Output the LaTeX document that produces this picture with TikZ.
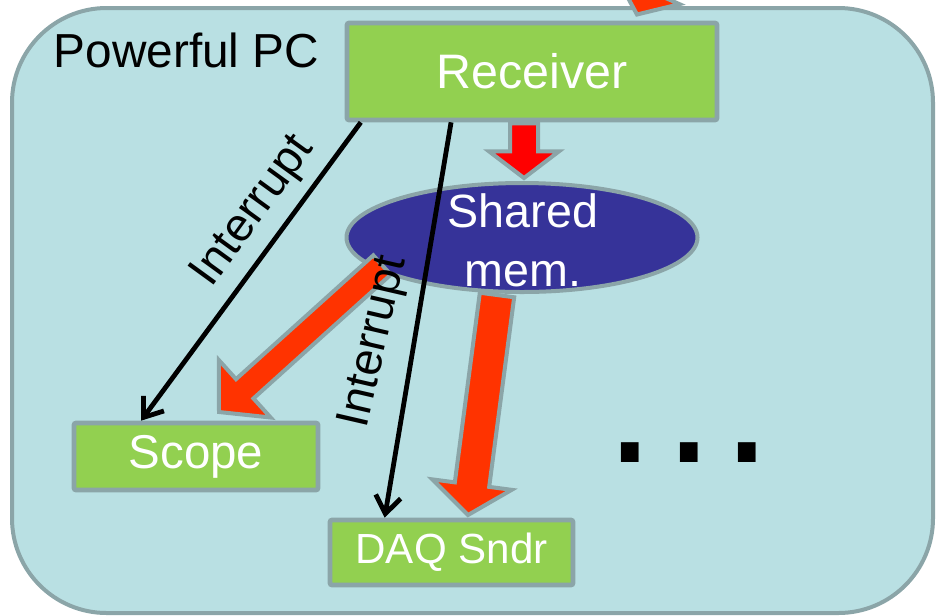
\documentclass[tikz,border=0pt]{standalone}
\usepackage{fontspec}
\setmainfont{Liberation Sans}
\usetikzlibrary{calc,arrows.meta,shapes.geometric}
\definecolor{bgfill}{HTML}{B9E0E3}
\definecolor{bord}{HTML}{8BA5A8}
\definecolor{boxgreen}{HTML}{92D050}
\definecolor{memblue}{HTML}{363399}
\definecolor{arrred}{HTML}{FF0000}
\definecolor{arrorange}{HTML}{FF3300}
% fat arrow: from, to, shaft half width, head half width, head length, colour
\newcommand{\fatarrow}[6]{%
  \coordinate (fa-h) at ($(#2)!#5!(#1)$);
  \filldraw[fill=#6, draw=bord, line width=3pt, line join=miter, miter limit=10]
    ($(#1)!#3!90:(#2)$) -- ($(fa-h)!#3!90:(#2)$) -- ($(fa-h)!#4!90:(#2)$) -- (#2)
    -- ($(fa-h)!#4!-90:(#2)$) -- ($(fa-h)!#3!-90:(#2)$) -- ($(#1)!#3!-90:(#2)$) -- cycle;
}
\tikzset{
  greenbox/.style={draw=bord, fill=boxgreen, line width=3.5pt, rounded corners=1.5pt,
    text=white, font=\fontsize{36}{43}\selectfont, inner sep=0pt},
  thinarr/.style={line width=3.6pt, -{Straight Barb[length=13pt,width=19pt]}},
  lbl/.style={font=\fontsize{35}{42}\selectfont, inner sep=0pt},
}
\begin{document}
\begin{tikzpicture}[x=0.75pt, y=-0.75pt]
\useasboundingbox (0,0) rectangle (937,615);
% container
\node[draw=bord, fill=bgfill, line width=3pt, rounded corners=71pt,
      minimum width=690.75pt, minimum height=453.75pt, inner sep=0pt] (pc) at (472.5,310.5) {};
\node[anchor=base west, inner sep=0pt, font=\fontsize{35.8}{43}\selectfont] (pctitle) at (53.5,67) {Powerful PC};
% boxes
\node[greenbox, minimum width=277.5pt, minimum height=72.75pt, font=\fontsize{36.3}{43}\selectfont] (rcv) at (532,71.5) {Receiver};
\node[greenbox, minimum width=183pt, minimum height=50.25pt, font=\fontsize{35.6}{43}\selectfont] (scp) at (196,456.5) {Scope};
\node[greenbox, minimum width=182.25pt, minimum height=48.75pt, font=\fontsize{31.6}{38}\selectfont] (daq) at (451.5,552.5) {DAQ Sndr};
\node[ellipse, draw=bord, fill=memblue, line width=3pt, minimum width=263.25pt, minimum height=81.75pt, inner sep=0pt] (shm) at (522,237.5) {};
\node[text=white, align=center, inner sep=0pt, font=\fontsize{35}{44.25}\selectfont] (shmtxt) at (523,240.5) {Shared\\mem.};
% fat arrows
\coordinate (top-tail) at (697,-121);
\coordinate (top-tip) at (637,14.5);
\fatarrow{top-tail}{top-tip}{10.5pt}{26pt}{20pt}{arrorange}
\coordinate (r-s) at ($(rcv.south)+(-8,1)$);
\coordinate (r-e) at ($(shm.north)+(2,-3)$);
\fatarrow{r-s}{r-e}{10.5pt}{26.25pt}{20pt}{arrred}
\coordinate (s-s) at ($(shm.center)+(-140,27.5)$);
\coordinate (s-e) at (219,412);
\fatarrow{s-s}{s-e}{9.75pt}{29pt}{26pt}{arrorange}
\coordinate (d-s) at ($(shm.center)+(-25,57.5)$);
\coordinate (d-e) at (468,515);
\fatarrow{d-s}{d-e}{13pt}{30pt}{23pt}{arrorange}
% thin interrupt arrows
\coordinate (a1) at ($(rcv.south west)!0.043!(rcv.south east)$);
\coordinate (b1) at ($(scp.north west)!0.279!(scp.north east)$);
\coordinate (a2) at ($(rcv.south west)!0.284!(rcv.south east)$);
\coordinate (b2) at ($(daq.north west)!0.23!(daq.north east)$);
\draw[thinarr] (a1) -- (b1);
\draw[thinarr] (a2) -- (b2);
\node[lbl, rotate=54] (int1) at (254,212) {Interrupt};
\node[lbl, rotate=77] (int2) at (375,342) {Interrupt};
% dots
\node[anchor=base west, inner sep=0pt, font=\fontsize{139}{150}\selectfont] (dots) at (604.2,462) {.\hspace{5.3pt}.\hspace{5.3pt}.};
\end{tikzpicture}
\end{document}
